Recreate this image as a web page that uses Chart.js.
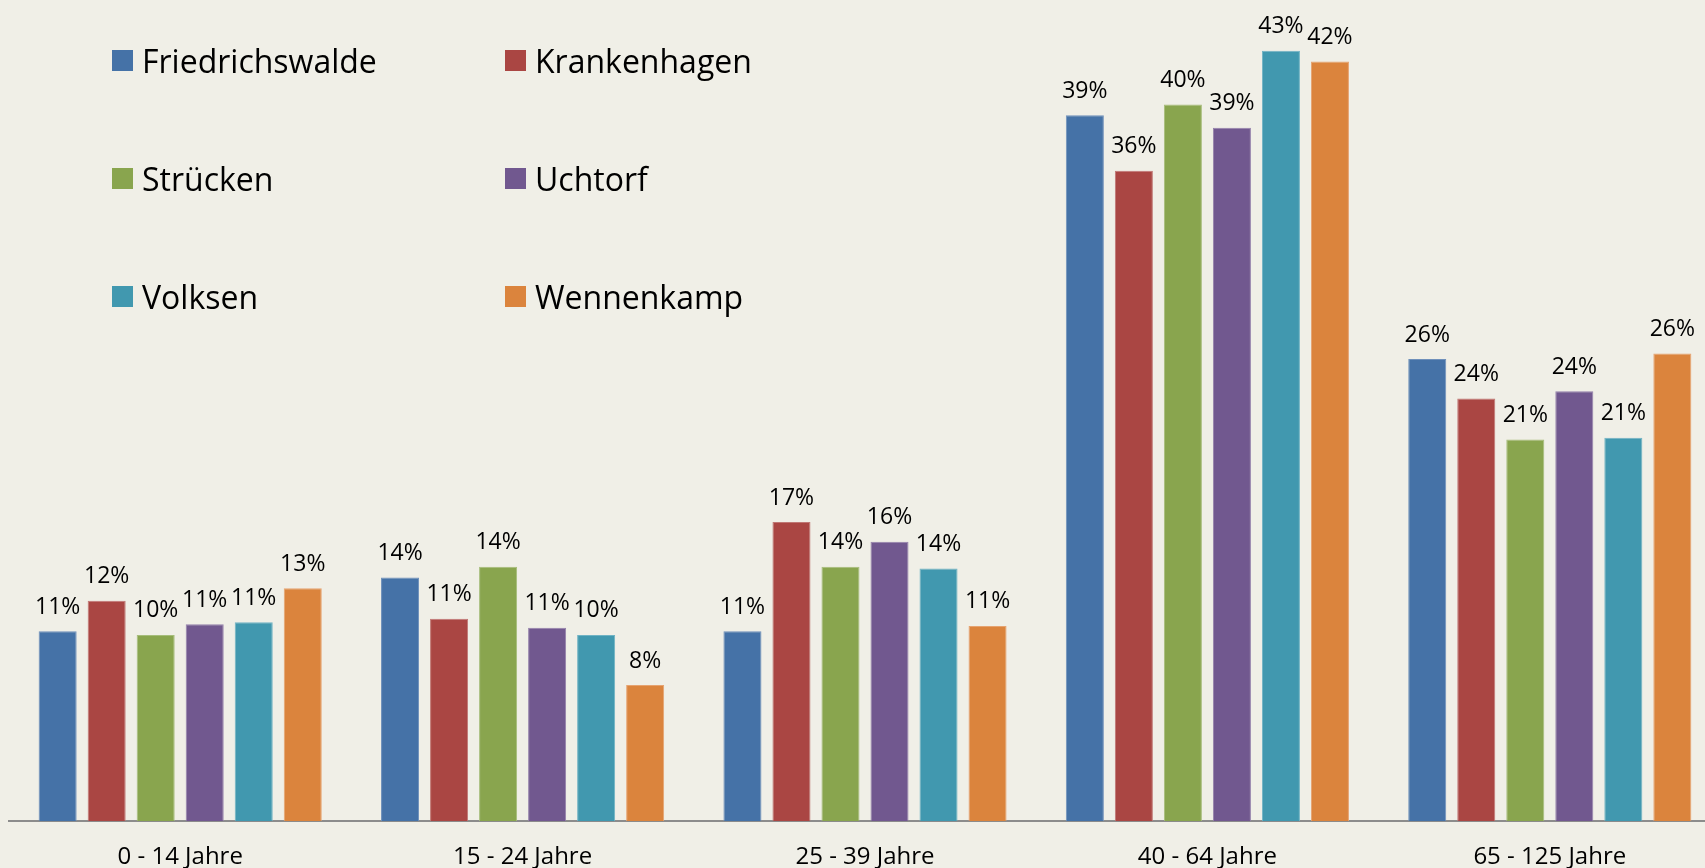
<!DOCTYPE html>
<html>
<head>
<meta charset="utf-8">
<script src="https://cdn.jsdelivr.net/npm/chart.js@4"></script>
<style>
  html, body { margin: 0; padding: 0; background: #f0efe7; overflow: hidden; }
  #wrap { position: relative; width: 1721px; height: 894px; }
  #legend { position: absolute; left: 0; top: 0; font-family: "Open Sans", sans-serif; font-size: 32px; color: #000; }
  .item { position: absolute; display: flex; align-items: center; height: 21px; white-space: nowrap; }
  .item span.box { width: 21px; height: 21px; margin-right: 9px; }
</style>
</head>
<body>
<div id="wrap">
  <canvas id="chart" width="1721" height="894"></canvas>
  <div id="legend"></div>
</div>
<script>
// Altersgruppen (Kategorien)
const categories = ['0 - 14 Jahre', '15 - 24 Jahre', '25 - 39 Jahre', '40 - 64 Jahre', '65 - 125 Jahre'];

// Anteile je Ortsteil in %
const friedrichswalde = [10.6, 13.6, 10.6, 39.4, 25.8];
const krankenhagen    = [12.3, 11.3, 16.7, 36.3, 23.6];
const struecken       = [10.4, 14.2, 14.2, 40.0, 21.3];
const uchtorf         = [11.0, 10.8, 15.6, 38.7, 24.0];
const volksen         = [11.1, 10.4, 14.1, 43.0, 21.4];
const wennenkamp      = [13.0,  7.6, 10.9, 42.4, 26.1];

const seriesNames  = ['Friedrichswalde', 'Krankenhagen', 'Strücken', 'Uchtorf', 'Volksen', 'Wennenkamp'];
const seriesValues = [friedrichswalde, krankenhagen, struecken, uchtorf, volksen, wennenkamp];
const colors  = ['#4572a7', '#aa4643', '#89a54e', '#71588f', '#4198af', '#db843d'];
const borders = ['#6f90bb', '#c07774', '#a6bd7a', '#9480ab', '#70b3c4', '#e6a370'];

// Werte über den Balken
const valueLabels = {
  id: 'valueLabels',
  afterDatasetsDraw(chart) {
    const { ctx } = chart;
    ctx.save();
    ctx.font = '23px "Open Sans", sans-serif';
    ctx.fillStyle = '#000';
    ctx.textAlign = 'center';
    ctx.textBaseline = 'middle';
    chart.data.datasets.forEach((ds, i) => {
      chart.getDatasetMeta(i).data.forEach((bar, j) => {
        ctx.fillText(Math.round(ds.data[j]) + '%', bar.x, bar.y - 24);
      });
    });
    ctx.restore();
  },
};

const chart = new Chart(document.getElementById('chart'), {
  type: 'bar',
  data: {
    labels: categories,
    datasets: seriesNames.map((name, i) => ({
      label: name,
      data: seriesValues[i],
      backgroundColor: colors[i],
      borderColor: borders[i],
      borderWidth: 1,
      categoryPercentage: 0.859,
      barPercentage: 0.776,
    })),
  },
  options: {
    responsive: false,
    animation: false,
    layout: { padding: { left: 9, right: 0, top: 15, bottom: 0 } },
    plugins: {
      legend: { display: false },
      tooltip: { enabled: false },
    },
    scales: {
      x: {
        grid: { display: false, drawTicks: false },
        border: { display: true, color: '#8c8c8c', width: 2 },
        ticks: {
          color: '#000',
          padding: 22,
          font: { family: '"Open Sans", sans-serif', size: 24 },
        },
      },
      y: {
        display: false,
        min: 0,
        max: 45,
      },
    },
  },
  plugins: [valueLabels],
});

// Legende: 2 Spalten, 3 Zeilen
const legend = document.getElementById('legend');
const colX = [112, 505];
const rowY = [50, 168, 286];
seriesNames.forEach((name, i) => {
  const el = document.createElement('div');
  el.className = 'item';
  el.style.left = colX[i % 2] + 'px';
  el.style.top = rowY[Math.floor(i / 2)] + 'px';
  el.innerHTML = '<span class="box" style="background:' + colors[i] + '"></span>' + name;
  legend.appendChild(el);
});
</script>
</body>
</html>
